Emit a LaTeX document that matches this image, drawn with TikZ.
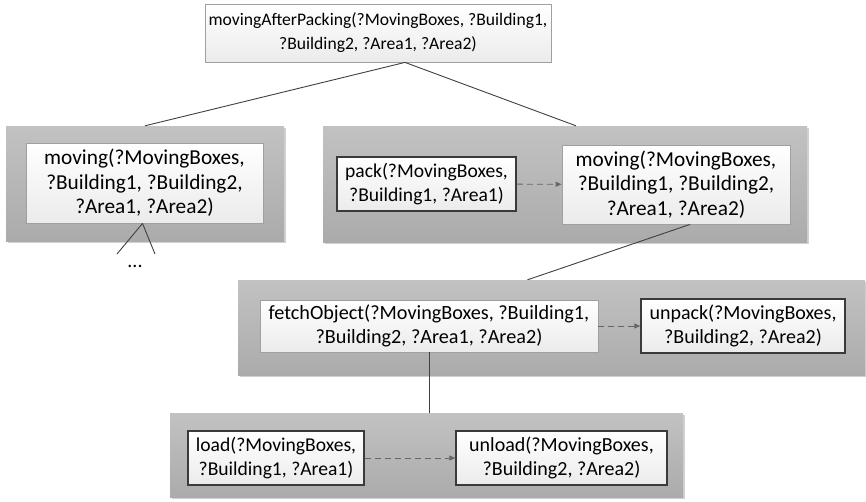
\documentclass[tikz,border=0pt]{standalone}
\usepackage{fontspec}
\setmainfont{Carlito}
\usetikzlibrary{shadows,arrows.meta}
\definecolor{grpTop}{HTML}{C2C2C2}
\definecolor{grpBot}{HTML}{ABABAB}
\definecolor{boxBot}{HTML}{EBEBEB}
\definecolor{boxLine}{HTML}{A0A0A0}
\definecolor{darkLine}{HTML}{3A3A3A}
\definecolor{conLine}{HTML}{404040}
\tikzset{
  grp/.style={draw=none, top color=grpTop, bottom color=grpBot, inner sep=0pt,
    drop shadow={shadow xshift=1.5pt, shadow yshift=-1.5pt, fill=black, opacity=0.18}},
  task/.style={draw=boxLine, line width=0.8pt, top color=white, bottom color=boxBot,
    align=center, inner sep=0pt, font=\fontsize{20}{24}\selectfont},
  prim/.style={draw=darkLine, line width=1.5pt, top color=white, bottom color=boxBot,
    align=center, inner sep=0pt, font=\fontsize{20}{24}\selectfont},
  bigtxt/.style={font=\fontsize{21.3}{24.5}\selectfont},
  con/.style={draw=conLine, line width=0.9pt},
  seq/.style={draw=conLine!80, line width=0.9pt, dash pattern=on 6pt off 4pt,
    -{Triangle[length=6pt,width=5pt]}},
}
\begin{document}
\begin{tikzpicture}[x=1pt,y=-1pt]
\useasboundingbox (0,0) rectangle (866,501);
% groups
\node[grp, minimum width=278pt, minimum height=115pt] (g1) at (145,183.5) {};
\node[grp, minimum width=484pt, minimum height=116pt] (g2) at (565,184) {};
\node[grp, minimum width=627pt, minimum height=95pt] (g3) at (551.5,327.5) {};
\node[grp, minimum width=513pt, minimum height=84pt] (g4) at (426.5,455) {};
% top
\node[task, font=\fontsize{17.6}{24}\selectfont, minimum width=346pt, minimum height=58pt] (top) at (378,33)
  {movingAfterPacking(?MovingBoxes, ?Building1,\\?Building2, ?Area1, ?Area2)};
% group 1
\node[task, bigtxt, minimum width=237pt, minimum height=80pt] (mv1) at (144.5,183)
  {moving(?MovingBoxes,\\?Building1, ?Building2,\\?Area1, ?Area2)};
\coordinate (d1) at (117,254);
\coordinate (d2) at (155,254);
\node[font=\fontsize{20}{24}\selectfont] (dots) at (135,266) {...};
% group 2
\node[prim, font=\fontsize{19.6}{24}\selectfont, minimum width=179pt, minimum height=54pt] (pack) at (426.5,184)
  {pack(?MovingBoxes,\\?Building1, ?Area1)};
\node[task, bigtxt, minimum width=228pt, minimum height=79pt] (mv2) at (676,184.5)
  {moving(?MovingBoxes,\\?Building1, ?Building2,\\?Area1, ?Area2)};
% group 3
\node[task, font=\fontsize{20.2}{24}\selectfont, minimum width=338pt, minimum height=52pt] (fetch) at (429,326)
  {fetchObject(?MovingBoxes, ?Building1,\\?Building2, ?Area1, ?Area2)};
\node[prim, minimum width=204pt, minimum height=54pt] (unpack) at (743,326)
  {unpack(?MovingBoxes,\\?Building2, ?Area2)};
% group 4
\node[prim, font=\fontsize{19.6}{24}\selectfont, minimum width=176pt, minimum height=54pt] (load) at (276,458)
  {load(?MovingBoxes,\\?Building1, ?Area1)};
\node[prim, minimum width=211pt, minimum height=54pt] (unload) at (561.5,458)
  {unload(?MovingBoxes,\\?Building2, ?Area2)};
% connectors
\draw[con] ([xshift=27pt]top.south) -- (g1.north);
\draw[con] ([xshift=27pt]top.south) -- ([xshift=11pt]g2.north);
\draw[con] ([xshift=-2pt]mv1.south) -- (d1);
\draw[con] ([xshift=-2pt]mv1.south) -- (d2);
\draw[con] ([xshift=14pt]mv2.south) -- ([xshift=-24pt]g3.north);
\draw[con] (fetch.south) -- (fetch.south |- g4.north);
\draw[seq] (pack) -- (mv2);
\draw[seq] (fetch) -- (unpack);
\draw[seq] (load) -- (unload);
\end{tikzpicture}
\end{document}
